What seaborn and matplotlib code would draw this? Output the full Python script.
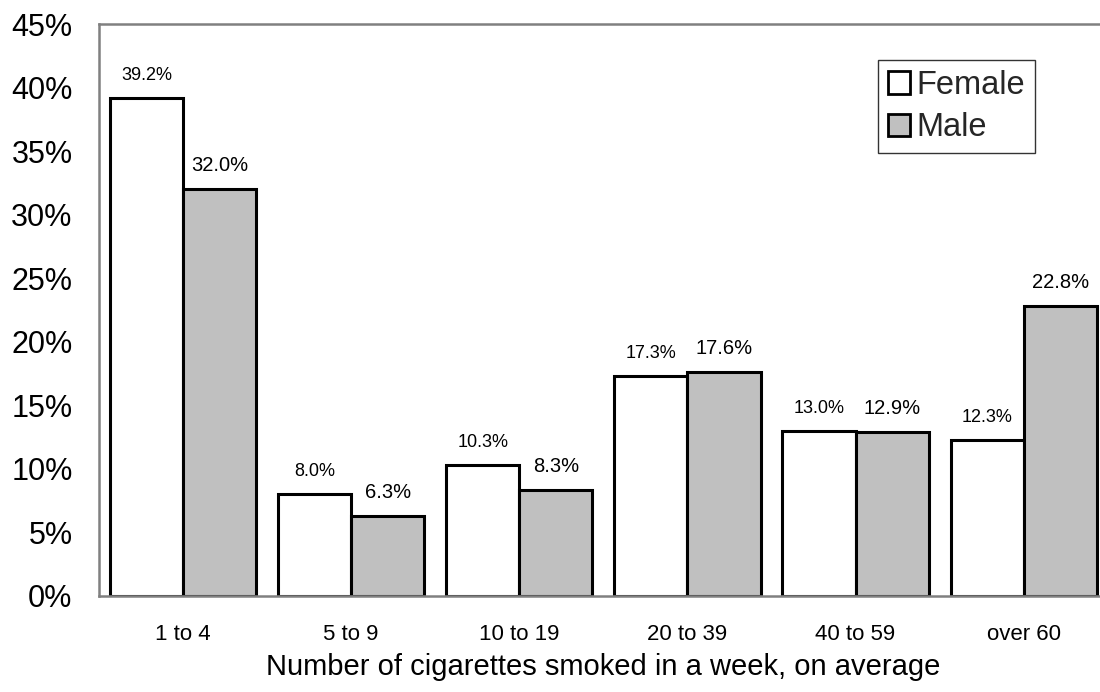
import matplotlib
matplotlib.use("Agg")
import matplotlib.pyplot as plt
from matplotlib.patches import Patch
from matplotlib.ticker import FuncFormatter
import seaborn as sns
import pandas as pd

# Weekly cigarette consumption by sex (share of smokers, %)
categories = ["1 to 4", "5 to 9", "10 to 19", "20 to 39", "40 to 59", "over 60"]
female = [39.2, 8.0, 10.3, 17.3, 13.0, 12.3]
male = [32.0, 6.3, 8.3, 17.6, 12.9, 22.8]
series = ["Female", "Male"]
colors = ["#FFFFFF", "#C0C0C0"]
y_ticks = [0, 5, 10, 15, 20, 25, 30, 35, 40, 45]

df = pd.DataFrame({
    "range": categories * 2,
    "pct": female + male,
    "sex": [series[0]] * len(categories) + [series[1]] * len(categories),
})

sns.set_theme(style="white")
plt.rcParams["font.family"] = ["Liberation Sans", "DejaVu Sans"]

fig = plt.figure(figsize=(11, 6.92), dpi=100)
ax = fig.add_axes([0.09, 0.139, 0.917, 0.826])

sns.barplot(
    data=df, x="range", y="pct", hue="sex", order=categories, hue_order=series,
    palette=colors, edgecolor="black", linewidth=2.2, width=0.87, gap=0,
    saturation=1, legend=False, ax=ax,
)

ax.set_xlim(-0.5, 5.5)
ax.set_ylim(0, 45)
ax.set_yticks(y_ticks)
ax.yaxis.set_major_formatter(FuncFormatter(lambda v, _: f"{v:.0f}%"))
ax.tick_params(axis="y", length=0, pad=19, labelsize=22, colors="black")
ax.tick_params(axis="x", length=0, pad=20, labelsize=16, colors="black")
ax.set_xlabel("Number of cigarettes smoked in a week, on average",
              fontsize=21, labelpad=6, color="black")
ax.set_ylabel("")

for side in ["left", "bottom", "top"]:
    ax.spines[side].set_visible(True)
    ax.spines[side].set_color("#808080")
    ax.spines[side].set_linewidth(1.8)
ax.spines["right"].set_visible(False)

label_sizes = [13, 14.5]
for container, vals, fs in zip(ax.containers, [female, male], label_sizes):
    ax.bar_label(container, labels=[f"{v:.1f}%" for v in vals],
                 padding=10, fontsize=fs, color="black")

handles = [Patch(facecolor=c, edgecolor="black", linewidth=2) for c in colors]
leg = ax.legend(
    handles, series, loc="upper right",
    bbox_to_anchor=(1035 / 1100, 1 - 60 / 692), bbox_transform=fig.transFigure,
    fontsize=23.5, frameon=True, fancybox=False, handlelength=0.68,
    handleheight=0.68, handletextpad=0.2, borderpad=0.3, labelspacing=0.35,
    borderaxespad=0,
)
leg.get_frame().set_edgecolor("black")
leg.get_frame().set_linewidth(1.0)

fig.savefig("out.png", dpi=100, facecolor="white")
